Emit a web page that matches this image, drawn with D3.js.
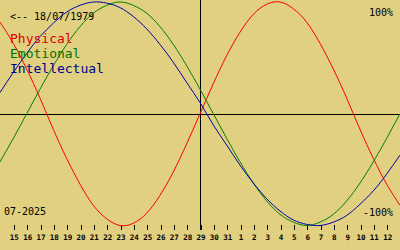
<!DOCTYPE html>
<html>
<head>
<meta charset="utf-8">
<script src="https://cdn.jsdelivr.net/npm/d3@7"></script>
<style>
	body { margin: 0; background: #e0d080; }
	svg { display: block; }
	text { font-family: 'DejaVu Sans Mono', monospace; }
	.tick text { font-weight: bold; }
</style>
</head>
<body>
<svg></svg>
<script>
// days shown, 14/07 .. 13/08 (29/07 is the middle)
const dayLabels = [14, 15, 16, 17, 18, 19, 20, 21, 22, 23, 24, 25, 26, 27, 28, 29, 30, 31,
	1, 2, 3, 4, 5, 6, 7, 8, 9, 10, 11, 12, 13];

// values, one per day (-1 .. 1)
const physical = [0.82, 0.63, 0.40, 0.14, -0.14, -0.40, -0.63, -0.82, -0.94, -1.00, -0.98, -0.89,
	-0.73, -0.52, -0.27, 0.00, 0.27, 0.52, 0.73, 0.89, 0.98, 1.00, 0.94, 0.82, 0.63, 0.40, 0.14,
	-0.14, -0.40, -0.63, -0.82];
const emotional = [-0.43, -0.22, 0.00, 0.22, 0.43, 0.62, 0.78, 0.90, 0.97, 1.00, 0.97, 0.90,
	0.78, 0.62, 0.43, 0.22, 0.00, -0.22, -0.43, -0.62, -0.78, -0.90, -0.97, -1.00, -0.97, -0.90,
	-0.78, -0.62, -0.43, -0.22, 0.00];
const intellectual = [0.19, 0.37, 0.54, 0.69, 0.81, 0.91, 0.97, 1.00, 0.99, 0.95, 0.87, 0.76,
	0.62, 0.46, 0.28, 0.10, -0.10, -0.28, -0.46, -0.62, -0.76, -0.87, -0.95, -0.99, -1.00, -0.97,
	-0.91, -0.81, -0.69, -0.54, -0.37];

const series = [
	{ name: 'Physical', values: physical, color: '#ff0000', text: '#e00000' },
	{ name: 'Emotional', values: emotional, color: '#008000', text: '#007000' },
	{ name: 'Intellectual', values: intellectual, color: '#0000b0', text: '#000090' }
];

const width = 400;
const height = 250;

const svg = d3.select('svg')
	.attr('width', width)
	.attr('height', height);

const xScale = d3.scaleLinear()
	.domain([0, dayLabels.length - 1])
	.range([0, width]);

const yScale = d3.scaleLinear()
	.domain([-1, 1])
	.range([225.5, 2]);

const centre = Math.floor((dayLabels.length - 1) / 2);

// axes lines
svg.append('line')
	.attr('x1', 0)
	.attr('x2', width)
	.attr('y1', Math.round(yScale(0)) + 0.5)
	.attr('y2', Math.round(yScale(0)) + 0.5)
	.attr('stroke', '#000')
	.attr('shape-rendering', 'crispEdges');

svg.append('line')
	.attr('x1', xScale(centre) + 0.5)
	.attr('x2', xScale(centre) + 0.5)
	.attr('y1', 0)
	.attr('y2', 230)
	.attr('stroke', '#000')
	.attr('shape-rendering', 'crispEdges');

// day ticks
const xAxis = d3.axisBottom(xScale)
	.tickValues(d3.range(1, dayLabels.length - 1))
	.tickFormat(i => dayLabels[i])
	.tickSize(5)
	.tickPadding(5);

const xAxisGroup = svg.append('g')
	.attr('transform', 'translate(0.5,225)')
	.call(xAxis);

xAxisGroup.select('.domain').remove();
xAxisGroup.selectAll('line')
	.attr('stroke', '#000')
	.attr('shape-rendering', 'crispEdges');
xAxisGroup.selectAll('text')
	.attr('fill', '#000')
	.attr('font-size', 7.5)
	.attr('font-family', "'DejaVu Sans Mono', monospace");

// curves
const lineGenerator = d3.line()
	.x((d, i) => xScale(i))
	.y(d => yScale(d))
	.curve(d3.curveNatural);

svg.selectAll('path.curve')
	.data(series)
	.join('path')
	.attr('class', 'curve')
	.attr('fill', 'none')
	.attr('stroke', d => d.color)
	.attr('stroke-width', 1)
	.attr('d', d => lineGenerator(d.values));

// texts
svg.append('text')
	.attr('x', 10)
	.attr('y', 20)
	.attr('font-size', 10)
	.attr('fill', '#000')
	.text('<-- 18/07/1979');

svg.selectAll('text.legend')
	.data(series)
	.join('text')
	.attr('class', 'legend')
	.attr('x', 10)
	.attr('y', (d, i) => 43 + i * 15)
	.attr('font-size', 13)
	.attr('fill', d => d.text)
	.text(d => d.name);

svg.append('text')
	.attr('x', 393)
	.attr('y', 16)
	.attr('text-anchor', 'end')
	.attr('font-size', 10)
	.attr('fill', '#000')
	.text('100%');

svg.append('text')
	.attr('x', 393)
	.attr('y', 216)
	.attr('text-anchor', 'end')
	.attr('font-size', 10)
	.attr('fill', '#000')
	.text('-100%');

svg.append('text')
	.attr('x', 4)
	.attr('y', 215)
	.attr('font-size', 10)
	.attr('fill', '#000')
	.text('07-2025');
</script>
</body>
</html>
